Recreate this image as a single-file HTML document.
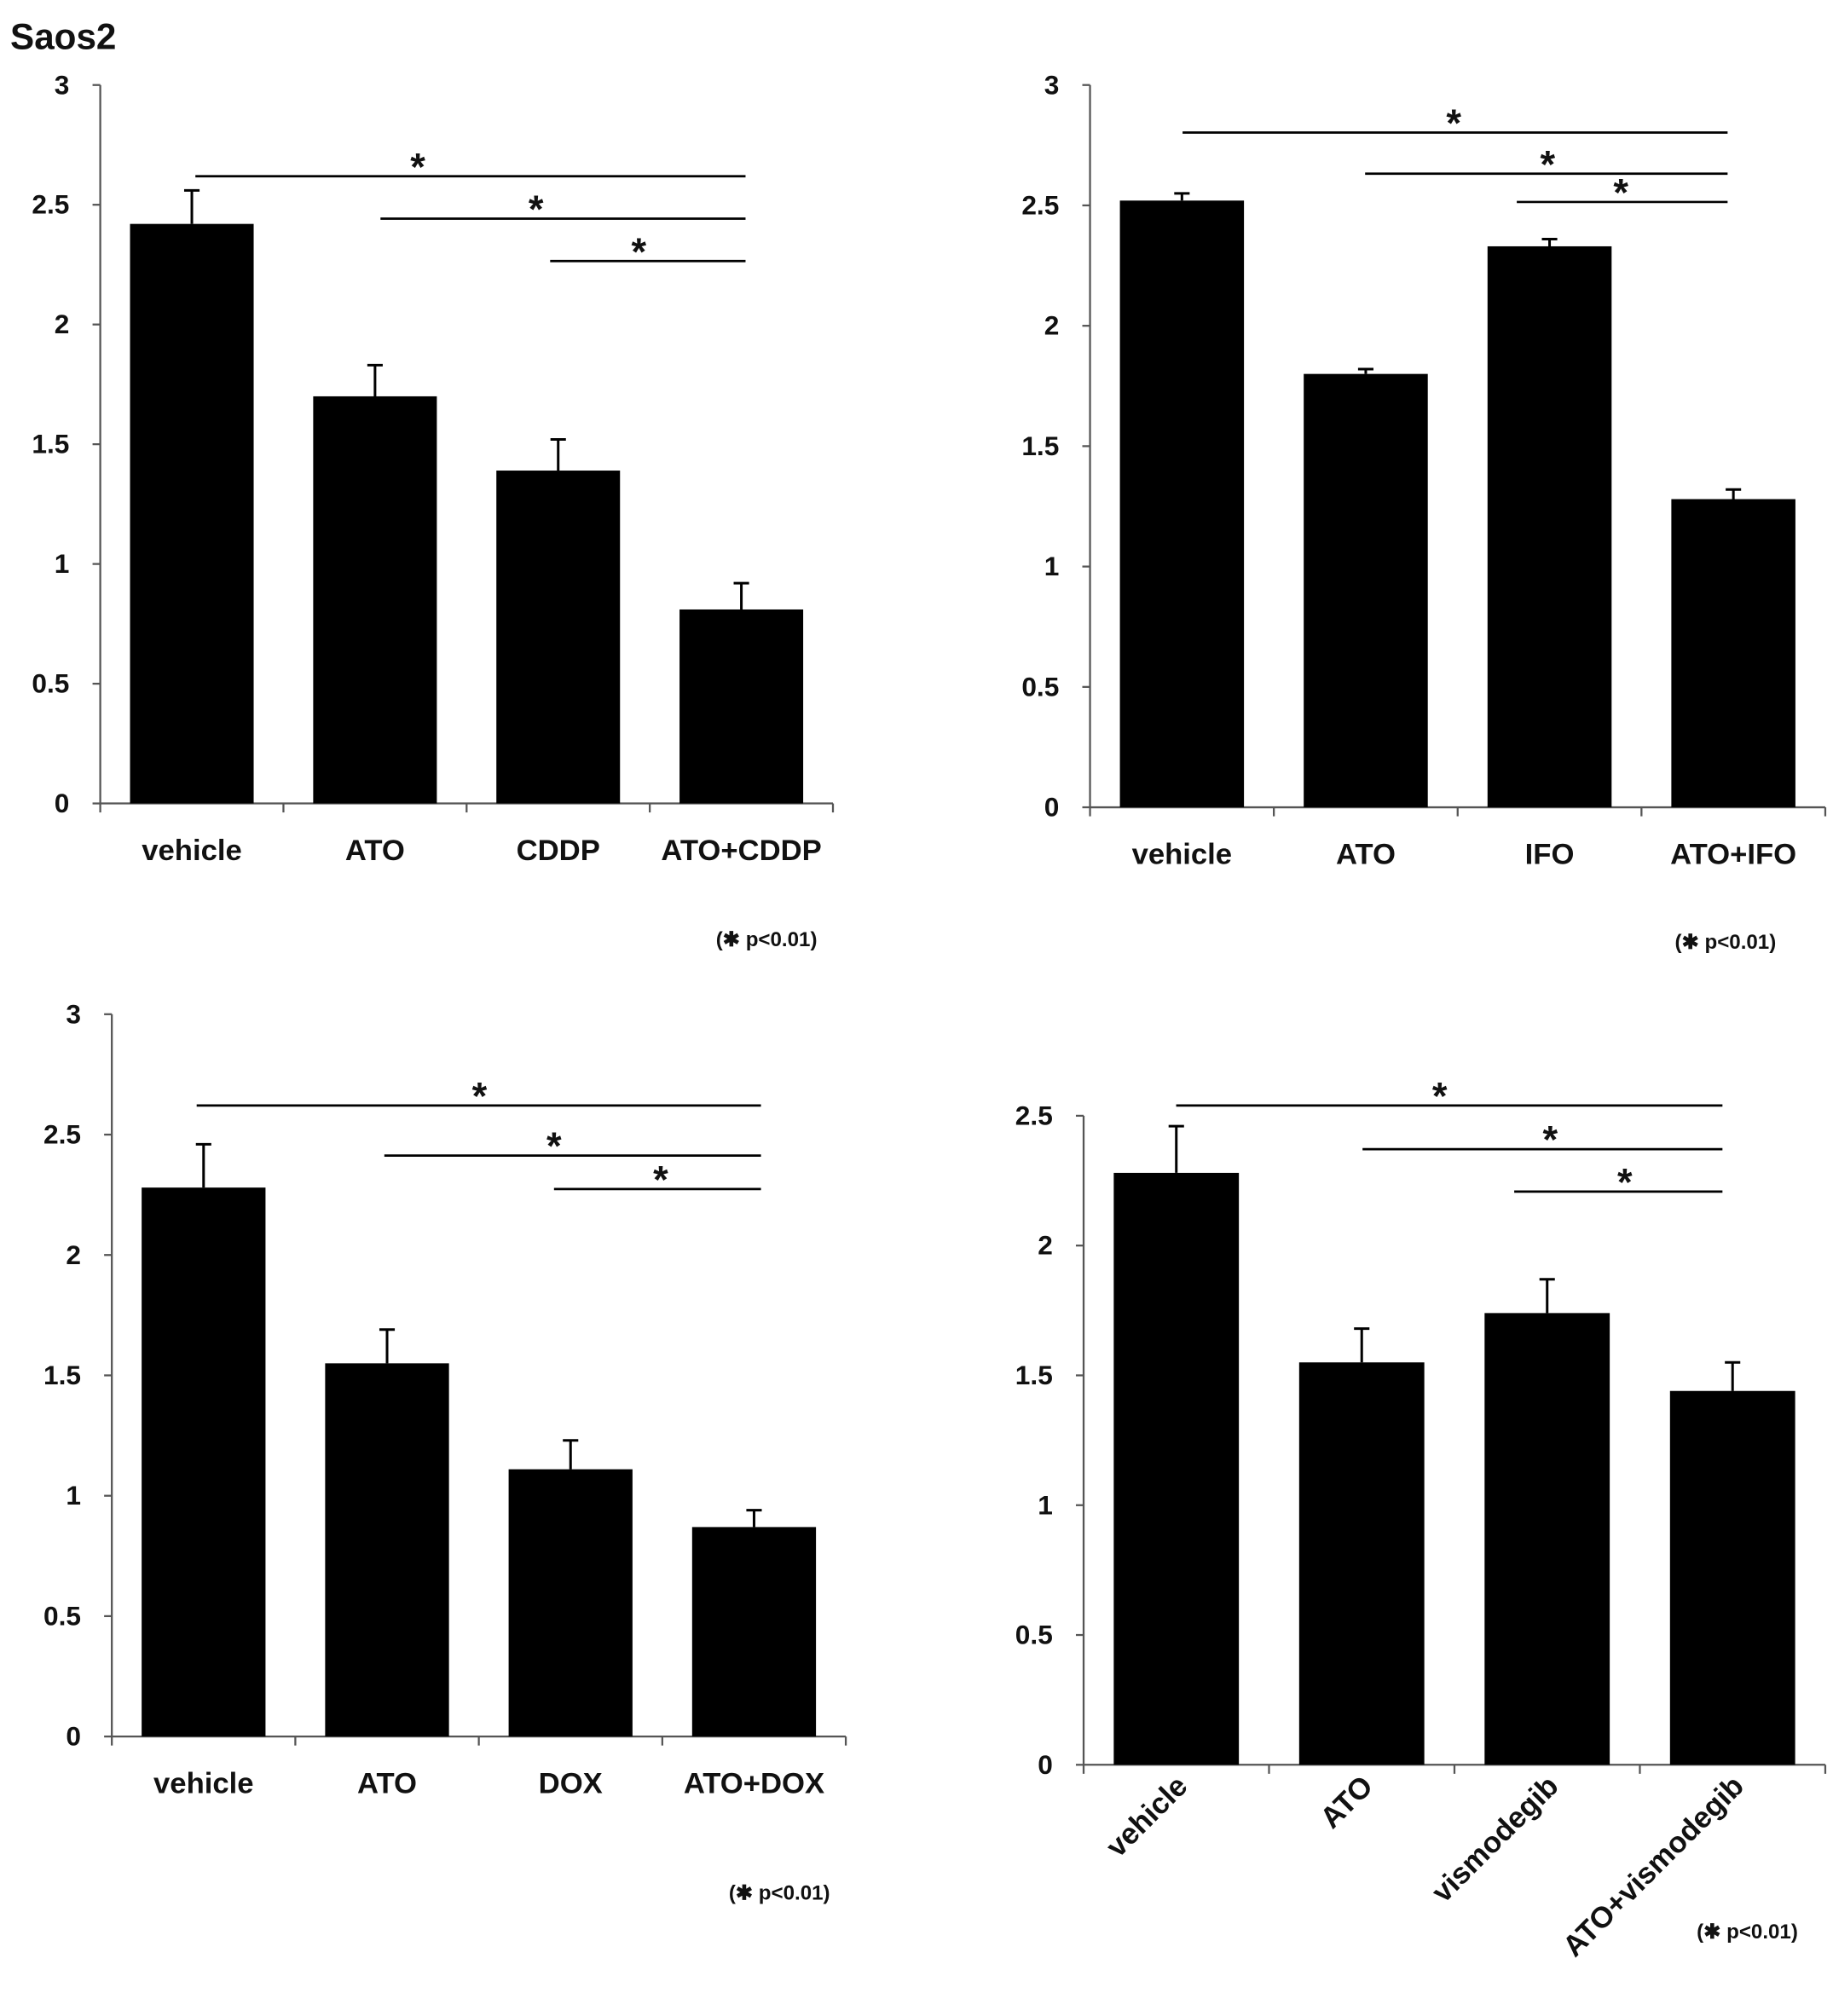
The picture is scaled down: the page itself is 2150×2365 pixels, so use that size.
<!DOCTYPE html>
<html><head><meta charset="utf-8"><style>
body{margin:0;background:#fff}
svg text{font-family:"Liberation Sans",sans-serif;font-weight:bold;fill:#111}
</style></head><body>
<svg id="fig" width="2150" height="2360" viewBox="0 0 1426 1565" xmlns="http://www.w3.org/2000/svg">
<text x="8" y="38" font-size="28">Saos2</text>
</svg>
<script>
const cat1=["vehicle","ATO","CDDP","ATO+CDDP"];
const val1=[2.42,1.70,1.39,0.81];
const err1=[0.14,0.13,0.13,0.11];
const cat2=["vehicle","ATO","IFO","ATO+IFO"];
const val2=[2.52,1.80,2.33,1.28];
const err2=[0.03,0.02,0.03,0.04];
const cat3=["vehicle","ATO","DOX","ATO+DOX"];
const val3=[2.28,1.55,1.11,0.87];
const err3=[0.18,0.14,0.12,0.07];
const cat4=["vehicle","ATO","vismodegib","ATO+vismodegib"];
const val4=[2.28,1.55,1.74,1.44];
const err4=[0.18,0.13,0.13,0.11];
const ticks3=["0","0.5","1","1.5","2","2.5","3"];
const ticks25=["0","0.5","1","1.5","2","2.5"];
const svg=document.getElementById('fig');
const NS="http://www.w3.org/2000/svg";
function mk(tag,attrs,parent){const e=document.createElementNS(NS,tag);for(const k in attrs)e.setAttribute(k,attrs[k]);parent.appendChild(e);return e;}
function panel(id,cfg){
  const g=mk('g',{},svg);
  
  
  const {ax,x1,y0,yTop,ymax,ticks,cats,vals,errs,sig,labelY,rot,note}=cfg;
  const ys=v=>y0-(v/ymax)*(y0-yTop);
  const step=(x1-ax)/cats.length;
  const xc=i=>ax+step*(i+0.5);
  mk('line',{x1:ax,y1:yTop,x2:ax,y2:y0,stroke:'#555','stroke-width':1.5},g);
  mk('line',{x1:ax,y1:y0,x2:x1,y2:y0,stroke:'#555','stroke-width':1.5},g);
  ticks.forEach(t=>{const y=ys(parseFloat(t));
    mk('line',{x1:ax-6,y1:y,x2:ax,y2:y,stroke:'#555','stroke-width':1.5},g);
    const tx=mk('text',{x:ax-24,y:y+7,'font-size':21,'text-anchor':'end'},g);tx.textContent=t;
    
    });
  for(let i=0;i<=cats.length;i++){mk('line',{x1:ax+step*i,y1:y0,x2:ax+step*i,y2:y0+7,stroke:'#555','stroke-width':1.5},g);}
  cats.forEach((c,i)=>{
    const bw=step*0.675;
    const b=mk('rect',{x:xc(i)-bw/2,y:ys(vals[i]),width:bw,height:y0-ys(vals[i]),fill:'#000'},g);
    
    
    const et=ys(vals[i]+errs[i]);
    const e=mk('path',{d:`M${xc(i)} ${ys(vals[i])}V${et}M${xc(i)-6} ${et}H${xc(i)+6}`,stroke:'#000','stroke-width':2,fill:'none'},g);
    
    
    let t;
    if(rot){t=mk('text',{x:xc(i)+10,y:y0+18,'font-size':23,'text-anchor':'end',transform:`rotate(-45 ${xc(i)+10} ${y0+18})`},g);}
    else{t=mk('text',{x:xc(i),y:labelY,'font-size':23,'text-anchor':'middle'},g);}
    t.textContent=c;
    
    
  });
  sig.forEach(s=>{
    const l=mk('line',{x1:s[0],y1:s[2],x2:s[1],y2:s[2],stroke:'#000','stroke-width':1.8},g);
    
    
    const st=mk('text',{x:s[3],y:s[2]+3,'font-size':30,'text-anchor':'middle'},g);st.textContent='*';
    
    
  });
  const n=mk('text',{x:note[0],y:note[1],'font-size':16},g);n.textContent='(✱ p<0.01)';
  
  
}
panel('panel-cddp',{ax:78,x1:648,y0:625,yTop:66,ymax:3,ticks:ticks3,cats:cat1,vals:val1,errs:err1,
  sig:[[152,580,137,325],[296,580,170,417],[428,580,203,497]],labelY:669,note:[557,736]});
panel('panel-ifo',{ax:848,x1:1420,y0:628,yTop:66,ymax:3,ticks:ticks3,cats:cat2,vals:val2,errs:err2,
  sig:[[920,1344,103,1131],[1062,1344,135,1204],[1180,1344,157,1261]],labelY:672,note:[1303,738]});
panel('panel-dox',{ax:87,x1:658,y0:1351,yTop:789,ymax:3,ticks:ticks3,cats:cat3,vals:val3,errs:err3,
  sig:[[153,592,860,373],[299,592,899,431],[431,592,925,514]],labelY:1395,note:[567,1478]});
panel('panel-vismodegib',{ax:843,x1:1420,y0:1373,yTop:868,ymax:2.5,ticks:ticks25,cats:cat4,vals:val4,errs:err4,
  sig:[[915,1340,860,1120],[1060,1340,894,1206],[1178,1340,927,1264]],rot:true,note:[1320,1508]});
</script>
</body></html>
